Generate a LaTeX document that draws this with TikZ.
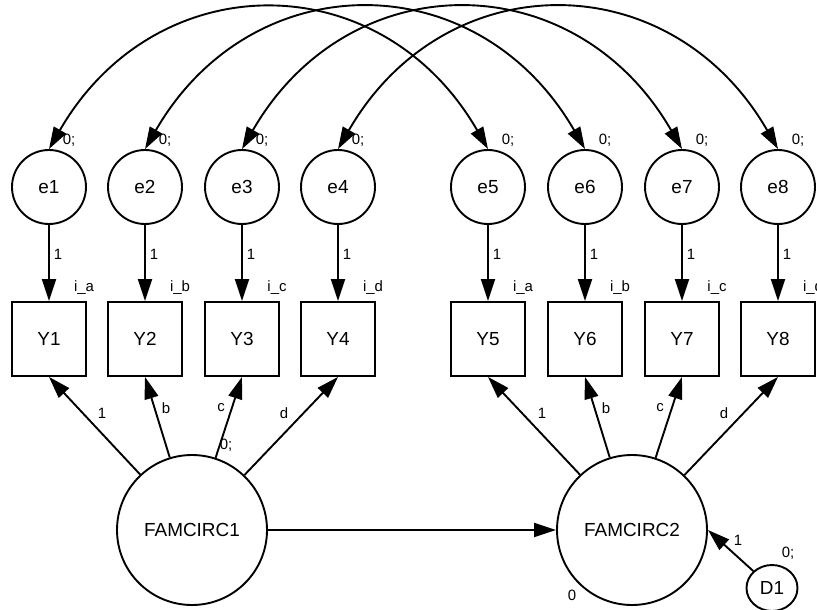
\documentclass[tikz,border=0pt]{standalone}
\usepackage{fontspec}
\setmainfont{Liberation Sans}
\usetikzlibrary{arrows.meta,shapes.geometric}
\begin{document}
\begin{tikzpicture}[x=1bp,y=-1bp,
  line width=1.9bp,
  >={Triangle[length=22bp,width=14bp]},
  bigfont/.style={font=\fontsize{19}{22}\selectfont},
  err/.style={circle,draw,minimum size=74bp,inner sep=0pt,bigfont},
  obs/.style={rectangle,draw,minimum size=74bp,inner sep=0pt,bigfont},
  lat/.style={circle,draw,minimum size=150bp,inner sep=0pt,bigfont},
  dist/.style={ellipse,draw,minimum width=51bp,minimum height=46bp,inner sep=0pt,bigfont},
  lbl/.style={inner sep=0pt,font=\fontsize{15}{17}\selectfont},
  reg/.style={->},
  cov/.style={<->,out=60,in=120,looseness=1.25}
]
\useasboundingbox (0,0) rectangle (817,610);

% error terms, indicators, and their unit paths
\foreach \i/\x/\p in {1/49/a,2/145/b,3/242/c,4/338/d,5/488/a,6/585/b,7/682/c,8/778/d} {
  \node[err] (e\i) at (\x,187) {e\i};
  \node[obs] (Y\i) at (\x,339) {Y\i};
  \draw[reg] (e\i) -- (Y\i);
  \node[lbl] (w\i) at (\x+9,254) {1};
  \node[lbl] (int\i) at (\x+35,288) {i\_\p};
  \node[lbl] (var\i) at (\x+20,140) {0;};
}

% correlated errors across occasions
\foreach \a/\b in {1/5,2/6,3/7,4/8}
  \draw[cov] (e\a.north) to (e\b.north);

% latent factors and disturbance
\node[lat] (F1) at (192,530) {FAMCIRC1};
\node[lat] (F2) at (632,530) {FAMCIRC2};
\node[dist] (D1) at (772,588) {D1};

% loadings
\foreach \i in {1,...,4} \draw[reg] (F1) -- (Y\i.south);
\foreach \i in {5,...,8} \draw[reg] (F2) -- (Y\i.south);
\draw[reg] (F1) -- (F2);
\draw[reg] (D1) -- (F2.east);

% loading labels
\node[lbl] (la1) at (102,413) {1};
\node[lbl] (lb1) at (166,408) {b};
\node[lbl] (lc1) at (221,408) {c};
\node[lbl] (ld1) at (284,413) {d};
\node[lbl] (la2) at (542,413) {1};
\node[lbl] (lb2) at (606,408) {b};
\node[lbl] (lc2) at (660,408) {c};
\node[lbl] (ld2) at (724,413) {d};

% variance / mean labels
\node[lbl] (vF1) at (226,445) {0;};
\node[lbl] (mF2) at (572,595) {0};
\node[lbl] (wD1) at (738,540) {1};
\node[lbl] (vD1) at (788,553) {0;};
\end{tikzpicture}
\end{document}
